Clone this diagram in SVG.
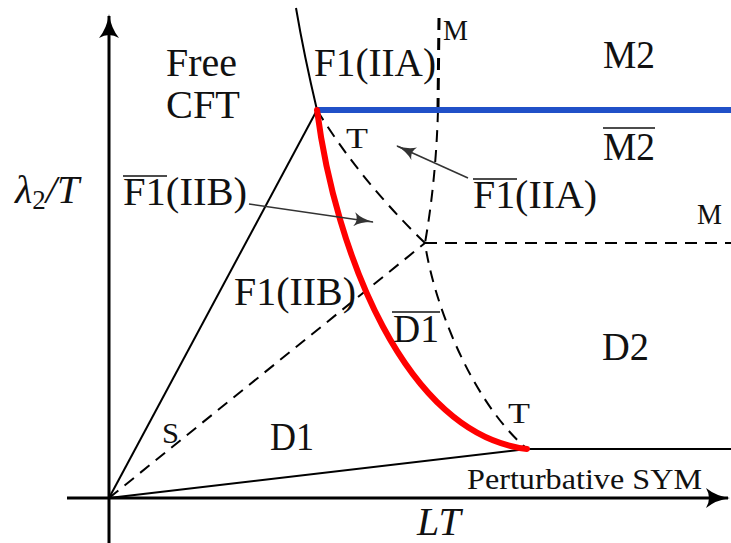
<svg xmlns="http://www.w3.org/2000/svg" width="731" height="543" viewBox="0 0 731 543">
<style>
.lbl{font-family:"Liberation Serif","DejaVu Serif",serif;fill:#111;}
.big{font-size:40px;}
.sm{font-size:29px;}
.ax{stroke:#000;stroke-width:3;fill:none;}
.sol{stroke:#000;stroke-width:2;fill:none;}
.dash{stroke:#000;stroke-width:2;fill:none;stroke-dasharray:12,8;}
.bar{stroke:#111;stroke-width:1.5;}
.ptr{stroke:#333;stroke-width:1.6;fill:none;}
</style>
<defs>
<marker id="ax2" viewBox="0 0 24 20" refX="22" refY="10" markerWidth="24" markerHeight="20" markerUnits="userSpaceOnUse" orient="auto">
<path d="M0,0 Q10,8 24,10 Q10,12 0,20 Q6,10 0,0 Z" fill="#000"/>
</marker>
<marker id="ph" viewBox="0 0 20 14" refX="19" refY="7" markerWidth="20" markerHeight="14" markerUnits="userSpaceOnUse" orient="auto">
<path d="M0,0 Q8,6 20,7 Q8,8 0,14 Q5,7 0,0 Z" fill="#333"/>
</marker>
</defs>
<g id="connectors">
<line id="y-axis" class="ax" x1="109" y1="543" x2="109" y2="16" marker-end="url(#ax2)"/>
<line id="x-axis" class="ax" x1="67" y1="498" x2="728" y2="498" marker-end="url(#ax2)"/>
<path id="upper-boundary" class="sol" d="M296,8 Q304,55 317,110"/>
<line id="line-origin-top" class="sol" x1="109" y1="498" x2="317" y2="110"/>
<line id="line-origin-bottom" class="sol" x1="109" y1="498" x2="527" y2="449"/>
<line id="line-bottom-right" class="sol" x1="527" y1="449" x2="731" y2="449"/>
<line id="dash-origin" class="dash" x1="109" y1="498" x2="425" y2="243"/>
<path id="dash-T-curve" class="dash" d="M317,110 Q360,180 425,243 C433,300 470,400 527,449"/>
<path id="dash-M-upper" class="dash" style="stroke-width:3" d="M439,18 L438,110"/>
<path id="dash-M-lower" class="dash" d="M438,110 Q436,180 425,243"/>
<line id="dash-M-horizontal" class="dash" x1="425" y1="243" x2="731" y2="243"/>
<line id="blue-line" x1="317" y1="110" x2="731" y2="110" stroke="#2050c8" stroke-width="6"/>
<path id="red-curve" d="M317,110 C335,250 405,435 527,449" stroke="#ff0000" stroke-width="6" fill="none" stroke-linecap="round"/>
<line id="ptr-IIB" class="ptr" x1="249" y1="204" x2="373" y2="222" marker-end="url(#ph)"/>
<line id="ptr-IIA" class="ptr" x1="468" y1="178" x2="397" y2="146" marker-end="url(#ph)"/>
</g>
<g id="free-cft"><text class="lbl big" x="166" y="76" textLength="71" lengthAdjust="spacingAndGlyphs">Free</text><text class="lbl big" x="166" y="118" textLength="74" lengthAdjust="spacingAndGlyphs">CFT</text></g>
<g id="f1-iia"><text class="lbl big" x="314" y="76" textLength="122" lengthAdjust="spacingAndGlyphs">F1(IIA)</text></g>
<g id="m-top"><text class="lbl sm" x="443" y="40" textLength="25" lengthAdjust="spacingAndGlyphs">M</text></g>
<g id="m2"><text class="lbl big" x="603" y="68" textLength="52" lengthAdjust="spacingAndGlyphs">M2</text></g>
<g id="m2-bar"><text class="lbl big" x="603" y="160" textLength="52" lengthAdjust="spacingAndGlyphs">M2</text><line class="bar" x1="603" y1="128" x2="655" y2="128"/></g>
<g id="t-top"><text class="lbl sm" x="346" y="148" textLength="22" lengthAdjust="spacingAndGlyphs">T</text></g>
<g id="f1bar-iia"><text class="lbl big" x="473" y="208" textLength="124" lengthAdjust="spacingAndGlyphs">F1(IIA)</text><line class="bar" x1="473" y1="179" x2="517" y2="179"/></g>
<g id="y-label"><text class="lbl" font-size="40" x="15" y="203" font-style="italic">λ<tspan font-style="normal" font-size="27" dy="6">2</tspan><tspan dy="-6">/T</tspan></text></g>
<g id="f1bar-iib"><text class="lbl big" x="123" y="205" textLength="124" lengthAdjust="spacingAndGlyphs">F1(IIB)</text><line class="bar" x1="123" y1="176" x2="167" y2="176"/></g>
<g id="m-right"><text class="lbl sm" x="697" y="224" textLength="25" lengthAdjust="spacingAndGlyphs">M</text></g>
<g id="f1-iib"><text class="lbl big" x="234" y="305" textLength="122" lengthAdjust="spacingAndGlyphs">F1(IIB)</text></g>
<g id="d1-bar"><text class="lbl big" x="393" y="342" textLength="46" lengthAdjust="spacingAndGlyphs">D1</text><line class="bar" x1="392" y1="312" x2="440" y2="312"/></g>
<g id="d2"><text class="lbl big" x="602" y="360" textLength="47" lengthAdjust="spacingAndGlyphs">D2</text></g>
<g id="t-bottom"><text class="lbl sm" x="508" y="423" textLength="22" lengthAdjust="spacingAndGlyphs">T</text></g>
<g id="s"><text class="lbl sm" x="162" y="443" textLength="17" lengthAdjust="spacingAndGlyphs">S</text></g>
<g id="d1"><text class="lbl big" x="270" y="450" textLength="44" lengthAdjust="spacingAndGlyphs">D1</text></g>
<g id="perturbative"><text class="lbl sm" x="467" y="489" textLength="235" lengthAdjust="spacingAndGlyphs">Perturbative SYM</text></g>
<g id="x-label"><text class="lbl" font-size="40" x="417" y="535" font-style="italic">LT</text></g>
</svg>
